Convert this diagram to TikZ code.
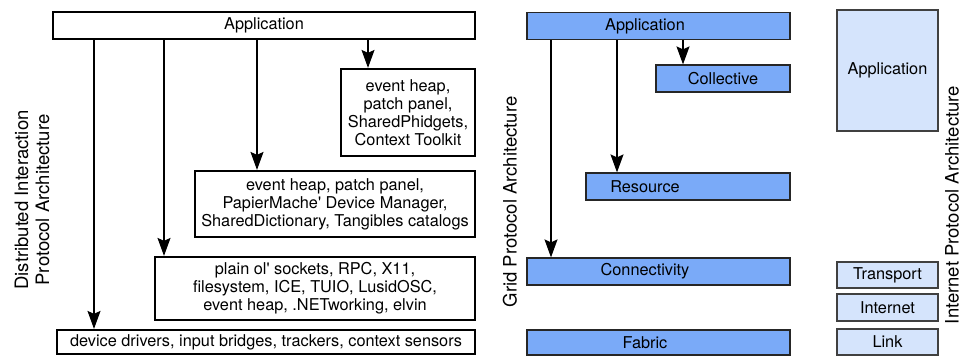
\documentclass[tikz,border=0pt]{standalone}
\usepackage{fontspec}
\setmainfont{TeX Gyre Heros}
\usetikzlibrary{arrows.meta}

\definecolor{gridblue}{HTML}{7AAAF8}
\definecolor{ipblue}{HTML}{D5E4FC}

\tikzset{
  dibox/.style={draw, line width=2.2pt, fill=white, align=center, inner sep=0pt,
    font=\fontsize{16.3}{18}\selectfont},
  gridbox/.style={draw=black!85, line width=1.2pt, fill=gridblue, inner sep=0pt,
    minimum height=27pt, font=\fontsize{16.3}{18}\selectfont},
  ipbox/.style={draw=black!75, line width=1.2pt, fill=ipblue, inner sep=0pt,
    minimum width=101pt, minimum height=26pt, font=\fontsize{16.3}{18}\selectfont},
  arr/.style={line width=1.4pt, -{Stealth[length=18pt,width=13pt,inset=3pt]}},
  side/.style={rotate=90, align=center, font=\fontsize{18.5}{21}\selectfont}
}

\begin{document}
\begin{tikzpicture}[x=1pt,y=-1pt]
        \useasboundingbox (0,0) rectangle (961,356);

        % distributed interaction stack
        \node[dibox, minimum width=422pt, minimum height=27pt] (appL) at (264,25.5) {Application};
        \node[dibox, minimum width=134pt, minimum height=87pt] (toolkits) at (408,112.5) {event heap,\\patch panel,\\SharedPhidgets,\\Context Toolkit};
        \node[dibox, minimum width=280pt, minimum height=66pt] (managers) at (335,204) {event heap, patch panel,\\PapierMache\textquotesingle{} Device Manager,\\SharedDictionary, Tangibles catalogs};
        \node[dibox, minimum width=320pt, minimum height=63pt] (transports) at (315,288.5) {plain ol\textquotesingle{} sockets, RPC, X11,\\filesystem, ICE, TUIO, LusidOSC,\\event heap, .NETworking, elvin};
        \node[dibox, minimum width=418pt, minimum height=24pt] (drivers) at (266,342) {device drivers, input bridges, trackers, context sensors};

        \draw[arr] (94,0 |- appL.south) -- (94,0 |- drivers.north);
        \draw[arr] (164,0 |- appL.south) -- (164,0 |- transports.north);
        \draw[arr] (257,0 |- appL.south) -- (257,0 |- managers.north);
        \draw[arr] (368,0 |- appL.south) -- (368,0 |- toolkits.north);

        % grid stack
        \node[gridbox, minimum width=263pt] (appG) at (658.5,26) {Application\hspace*{27pt}};
        \node[gridbox, minimum width=134pt] (collective) at (723,78.5) {Collective};
        \node[gridbox, minimum width=204pt] (resource) at (688,186.5) {Resource\hspace*{86pt}};
        \node[gridbox, minimum width=263pt] (connectivity) at (658.5,271.5) {Connectivity\hspace*{27pt}};
        \node[gridbox, minimum width=263pt, minimum height=25pt] (fabric) at (658.5,342.5) {Fabric\hspace*{27pt}};

        \draw[arr] (551,0 |- appG.south) -- (551,0 |- connectivity.north);
        \draw[arr] (617,0 |- appG.south) -- (617,0 |- resource.north);
        \draw[arr] (683,0 |- appG.south) -- (683,0 |- collective.north);

        % internet stack
        \node[ipbox, minimum height=121pt] (appI) at (887.5,70.5) {Application\\[4pt]};
        \node[ipbox] (transport) at (887.5,275) {Transport};
        \node[ipbox, minimum height=27pt] (internet) at (887.5,307.5) {Internet};
        \node[ipbox] (link) at (887.5,342) {Link};

        \node[side] (diLabel) at (32,200) {Distributed Interaction\\Protocol Architecture};
        \node[side] (gridLabel) at (510,202) {Grid Protocol Architecture};
        \node[side] (ipLabel) at (952,205) {Internet Protocol Architecture};
    \end{tikzpicture}
\end{document}
